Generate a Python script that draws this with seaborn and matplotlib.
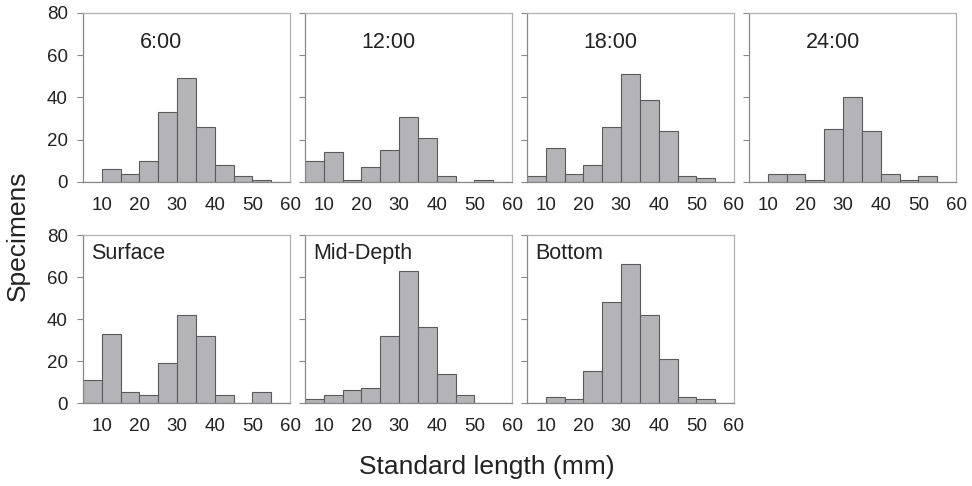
import numpy as np
import pandas as pd
import matplotlib
matplotlib.use("Agg")
import matplotlib.pyplot as plt
import seaborn as sns

# ---- data ----
bin_centers = [7.5, 12.5, 17.5, 22.5, 27.5, 32.5, 37.5, 42.5, 47.5, 52.5, 57.5]
bin_edges = [5, 10, 15, 20, 25, 30, 35, 40, 45, 50, 55, 60]
counts_0600 = [0, 6, 4, 10, 33, 49, 26, 8, 3, 1, 0]
counts_1200 = [10, 14, 1, 7, 15, 31, 21, 3, 0, 1, 0]
counts_1800 = [3, 16, 4, 8, 26, 51, 39, 24, 3, 2, 0]
counts_2400 = [0, 4, 4, 1, 25, 40, 24, 4, 1, 3, 0]
counts_surface = [11, 33, 5, 4, 19, 42, 32, 4, 0, 5, 0]
counts_middepth = [2, 4, 6, 7, 32, 63, 36, 14, 4, 0, 0]
counts_bottom = [0, 3, 2, 15, 48, 66, 42, 21, 3, 2, 0]
panel_labels = ["6:00", "12:00", "18:00", "24:00", "Surface", "Mid-Depth", "Bottom"]
x_ticks = [10, 20, 30, 40, 50, 60]
y_ticks = [0, 20, 40, 60, 80]

panels = [counts_0600, counts_1200, counts_1800, counts_2400,
          counts_surface, counts_middepth, counts_bottom]

sns.set_theme(style="white")
plt.rcParams["font.family"] = ["Liberation Sans", "DejaVu Sans"]

fig = plt.figure(figsize=(9.72, 4.86), dpi=100)
W, H = 972.0, 486.0
lefts = [83, 305, 527, 749]
pw = 207
rows = [(13, 182), (235, 403)]

text_col = "#222222"
for i, (lab, counts) in enumerate(zip(panel_labels, panels)):
    r = 0 if i < 4 else 1
    c = i if i < 4 else i - 4
    top, bot = rows[r]
    ax = fig.add_axes([lefts[c] / W, 1 - bot / H, pw / W, (bot - top) / H])
    df = pd.DataFrame({"length": bin_centers, "n": counts})
    sns.histplot(data=df, x="length", weights="n", bins=bin_edges, ax=ax,
                 color="#b4b4b8", edgecolor="#5a5a5a", linewidth=0.8, alpha=1.0)
    ax.set_xlim(5, 60)
    ax.set_ylim(0, 80)
    ax.set_xticks(x_ticks)
    ax.set_yticks(y_ticks)
    ax.set_xlabel("")
    ax.set_ylabel("")
    ax.tick_params(axis="x", length=0, labelsize=13.5, colors=text_col, pad=11)
    ax.tick_params(axis="y", length=4, width=0.8, color="#888888",
                   labelsize=13.5, labelcolor=text_col, pad=7, left=True)
    if c != 0:
        ax.set_yticklabels([])
    for s in ["top", "right"]:
        ax.spines[s].set_color("#b0b0b0")
        ax.spines[s].set_linewidth(0.9)
    for s in ["left", "bottom"]:
        ax.spines[s].set_color("#888888")
        ax.spines[s].set_linewidth(0.9)
    if r == 0:
        ax.text(20, 66, lab, fontsize=15.5, color=text_col, va="center", ha="left")
    else:
        ax.text(7.2, 71, lab, fontsize=15.5, color=text_col, va="center", ha="left")

fig.text(18 / W, 1 - 236 / H, "Specimens", rotation=90, fontsize=19,
         color=text_col, ha="center", va="center")
fig.text(487 / W, 1 - 467 / H, "Standard length (mm)", fontsize=19,
         color=text_col, ha="center", va="center")

fig.savefig("out.png", dpi=100, facecolor="white")
